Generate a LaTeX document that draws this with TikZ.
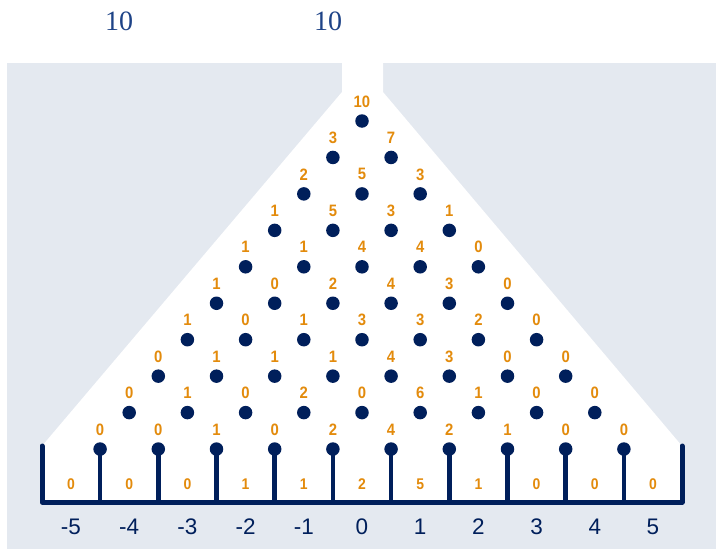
\documentclass[tikz,border=0pt]{standalone}
\usepackage{fontspec}
\setmainfont{Liberation Sans}
\newfontfamily\serifnum{Liberation Serif}
\definecolor{navy}{RGB}{0,31,91}
\definecolor{gold}{RGB}{227,139,12}
\definecolor{panel}{RGB}{228,233,240}
\definecolor{topblue}{RGB}{30,67,135}
\begin{document}
\begin{tikzpicture}[x=1pt,y=-1pt,
  pinbox/.style={circle,fill=navy,inner sep=0pt,minimum size=13.5pt},
  cnt/.style={text=gold,font=\fontsize{16.5}{16.5}\selectfont\bfseries,inner sep=0pt,xscale=0.9},
  bincnt/.style={text=gold,font=\fontsize{15.5}{15.5}\selectfont\bfseries,inner sep=0pt,xscale=0.9},
  axlbl/.style={text=navy,font=\fontsize{22.5}{22.5}\selectfont,inner sep=0pt},
  toplbl/.style={text=topblue,font=\serifnum\fontsize{28}{28}\selectfont,inner sep=0pt},
  wall/.style={draw=navy,line width=5pt,line cap=round,line join=round},
  stem/.style={draw=navy,line width=4.5pt}]
\useasboundingbox (0,0) rectangle (716,549);
\fill[panel] (7,63) rectangle (716,549);
\fill[white] (342,63) -- (383,63) -- (383,92) -- (682,446) -- (682,502)
  -- (42,502) -- (42,446) -- (342,92) -- cycle;
% top labels
\node[toplbl] (topA) at (119,21) {10};
\node[toplbl] (topB) at (328,21) {10};
% bin walls and floor
\coordinate (wl) at (42,446);
\coordinate (bl) at (42,502);
\coordinate (br) at (682,502);
\coordinate (wr) at (682,446);
\draw[wall] (wl) -- (bl) -- (br) -- (wr);
% pins with counts
\foreach \r/\vals in {0/{10},1/{3,7},2/{2,5,3},3/{1,5,3,1},4/{1,1,4,4,0},
    5/{1,0,2,4,3,0},6/{1,0,1,3,3,2,0},7/{0,1,1,1,4,3,0,0},
    8/{0,1,0,2,0,6,1,0,0},9/{0,0,1,0,2,4,2,1,0,0}}{
  \foreach \v [count=\i from 0] in \vals {
    \pgfmathsetmacro{\px}{362+(\i-\r/2)*58.2}
    \pgfmathsetmacro{\py}{121+\r*36.45}
    \node[pinbox] (p-\r-\i) at (\px,\py) {};
    \node[cnt] (l-\r-\i) at (\px,\py-19.5) {\v};
  }
}
% stems of the last row
\foreach \i in {0,...,9}{
  \pgfmathsetmacro{\px}{362+(\i-4.5)*58.2}
  \coordinate (s-\i) at (\px,502);
  \draw[stem] (p-9-\i.center) -- (s-\i);
}
% bin counts and axis labels
\foreach \v/\a [count=\k from 0] in {0/-5,0/-4,0/-3,1/-2,1/-1,2/0,5/1,1/2,0/3,0/4,0/5}{
  \pgfmathsetmacro{\px}{362+(\k-5)*58.2}
  \node[bincnt] (b-\k) at (\px,484) {\v};
  \node[axlbl] (a-\k) at (\px,527) {\a};
}
\end{tikzpicture}
\end{document}
